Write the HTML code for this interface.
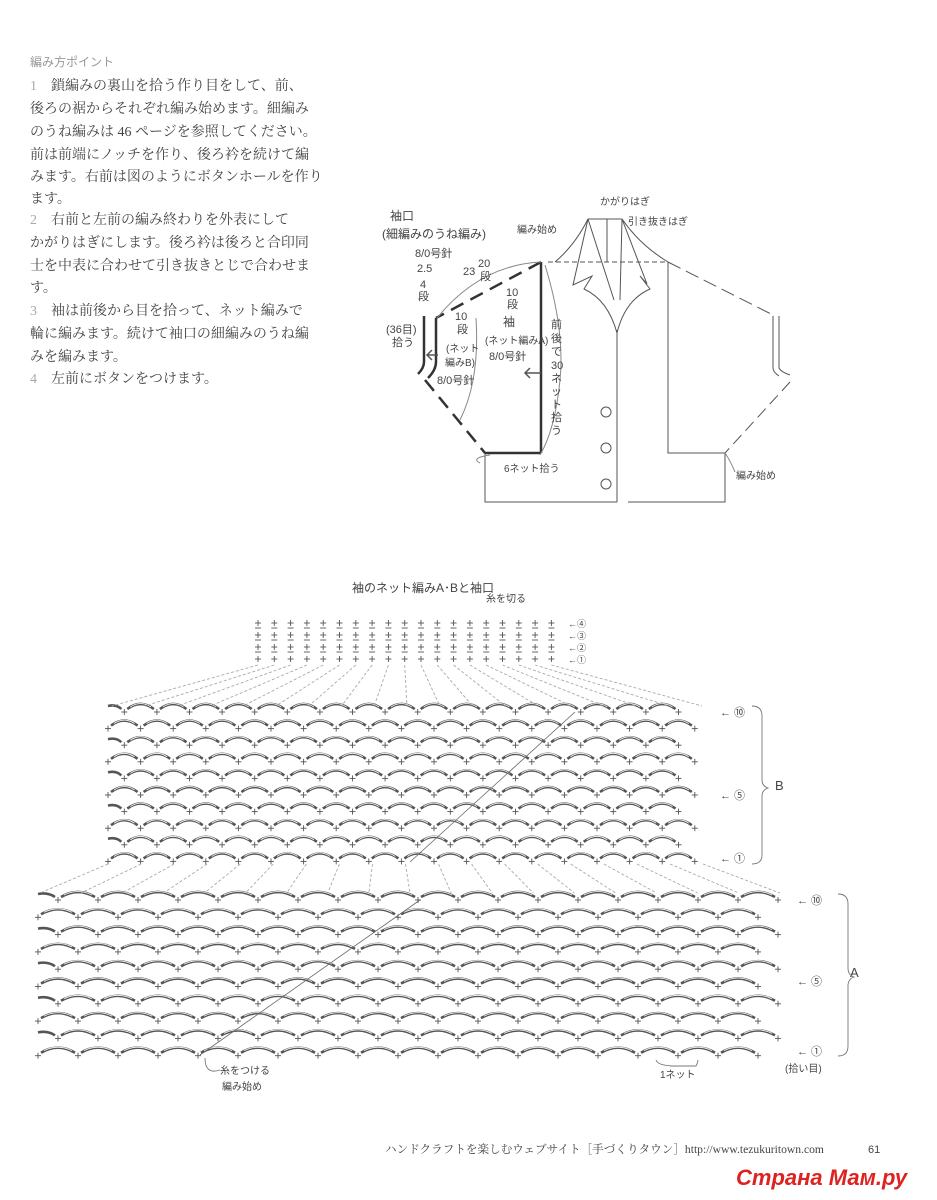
<!DOCTYPE html>
<html><head><meta charset="utf-8"><style>
html,body{margin:0;padding:0;background:#fff;}
body{width:937px;height:1200px;position:relative;overflow:hidden;font-family:"Liberation Serif","Noto Serif CJK SC","Noto Sans CJK JP",serif;color:#444;}
.t{position:absolute;left:30px;font-size:14px;white-space:nowrap;letter-spacing:0px;}
svg{position:absolute;left:0;top:0;}
svg text{font-family:"Liberation Sans","Noto Sans CJK JP",sans-serif;fill:#444;}
</style></head><body>
<div class="t" style="top:53px;font-size:12px;color:#999;font-family:'Liberation Sans','Noto Sans CJK JP',sans-serif">編み方ポイント</div>
<div class="t" style="top:75px"><span style="color:#aaa">1</span>　鎖編みの裏山を拾う作り目をして、前、</div>
<div class="t" style="top:98px">後ろの裾からそれぞれ編み始めます。細編み</div>
<div class="t" style="top:121px">のうね編みは 46 ページを参照してください。</div>
<div class="t" style="top:144px">前は前端にノッチを作り、後ろ衿を続けて編</div>
<div class="t" style="top:166px">みます。右前は図のようにボタンホールを作り</div>
<div class="t" style="top:188px">ます。</div>
<div class="t" style="top:209px"><span style="color:#aaa">2</span>　右前と左前の編み終わりを外表にして</div>
<div class="t" style="top:232px">かがりはぎにします。後ろ衿は後ろと合印同</div>
<div class="t" style="top:255px">士を中表に合わせて引き抜きとじで合わせま</div>
<div class="t" style="top:277px">す。</div>
<div class="t" style="top:300px"><span style="color:#aaa">3</span>　袖は前後から目を拾って、ネット編みで</div>
<div class="t" style="top:323px">輪に編みます。続けて袖口の細編みのうね編</div>
<div class="t" style="top:346px">みを編みます。</div>
<div class="t" style="top:368px"><span style="color:#aaa">4</span>　左前にボタンをつけます。</div>

<svg id="s" width="937" height="1200" viewBox="0 0 937 1200">
<g fill="none" stroke="#555" stroke-width="1">
 <polyline points="541,262 541,453 485,453 485,502 617,502"/>
 <polyline points="628,502 725,502 725,453 668,453 668,262"/>
 <line x1="617" y1="330" x2="617" y2="502"/>
 <line x1="548" y1="262" x2="668" y2="262" stroke-dasharray="5,3"/>
 <line x1="588" y1="219" x2="622" y2="219"/>
 <line x1="607" y1="219" x2="607" y2="262"/>
 <path d="M555,262 Q575,245 588,219"/>
 <path d="M622,219 Q640,245 668,262"/>
 <path d="M588,219 L573,285 L592,276 L584,289 Q608,300 617,333 Q625,300 650,289 L640,276 L647,284 L622,219"/>
 <path d="M588,219 L614,300 M622,219 L620,300"/>
 <circle cx="606" cy="412" r="5"/><circle cx="606" cy="448" r="5"/><circle cx="606" cy="484" r="5"/>
 <line x1="668" y1="262" x2="773" y2="315" stroke-dasharray="14,6"/>
 <path d="M773,316 L773,368 Q773,372 779,376 M779,316 L779,368 Q781,372 790,375"/>
 <line x1="790" y1="382" x2="725" y2="453" stroke-dasharray="12,6"/>
 <line x1="541" y1="262" x2="436" y2="318" stroke-width="2.5" stroke="#333" stroke-dasharray="14,8"/>
 <path d="M424,316 L424,362 Q424,368 418,374 M436,318 L436,362 Q436,370 428,378" stroke-width="2.5" stroke="#333"/>
 <line x1="425" y1="380" x2="485" y2="453" stroke-width="2.5" stroke="#333" stroke-dasharray="14,8"/>
 <line x1="541" y1="262" x2="541" y2="453" stroke-width="2.5" stroke="#333"/>
 <line x1="485" y1="453" x2="541" y2="453" stroke-width="2.5" stroke="#333"/>
 <path d="M428,355 L438,355 M432,350 L427,355 L432,360" stroke-width="1.5"/>
 <path d="M525,373 L541,373 M530,368 L525,373 L530,378" stroke-width="1.5"/>
 <path d="M437,318 Q480,265 541,262" stroke="#888"/>
 <path d="M545,265 Q565,330 560,380 Q555,430 540,455" stroke="#888"/>
 <path d="M476,318 Q480,380 460,420" stroke="#888"/>
 <path d="M490,455 Q470,458 480,463" stroke="#888"/>
 <path d="M725,453 Q730,460 735,472" stroke="#888"/>
</g>
<g font-size="11">
 <text x="390" y="220" font-size="12">袖口</text>
 <text x="382" y="238" font-size="12">(細編みのうね編み)</text>
 <text x="415" y="257">8/0号針</text>
 <text x="417" y="272">2.5</text>
 <text x="420" y="288">4</text><text x="418" y="300">段</text>
 <text x="386" y="333">(36目)</text><text x="392" y="346">拾う</text>
 <text x="463" y="275">23</text><text x="478" y="267">20</text><text x="480" y="280">段</text>
 <text x="506" y="296">10</text><text x="507" y="308">段</text>
 <text x="455" y="320">10</text><text x="457" y="333">段</text>
 <text x="503" y="326" font-size="12">袖</text>
 <text x="485" y="344" font-size="10">(ネット編みA)</text>
 <text x="489" y="360">8/0号針</text>
 <text x="446" y="352" font-size="10">(ネット</text>
 <text x="445" y="366" font-size="10">編みB)</text>
 <text x="437" y="384">8/0号針</text>
 <text x="517" y="233" font-size="10">編み始め</text>
 <text x="600" y="205" font-size="10">かがりはぎ</text>
 <text x="628" y="225" font-size="10">引き抜きはぎ</text>
 <text x="504" y="472" font-size="10">6ネット拾う</text>
 <text x="736" y="479" font-size="10">編み始め</text>
 <g font-size="11"><text x="551" y="328">前</text><text x="551" y="342">後</text><text x="551" y="355">で</text><text x="551" y="369">30</text><text x="551" y="382">ネ</text><text x="551" y="395">ッ</text><text x="551" y="408">ト</text><text x="551" y="421">拾</text><text x="551" y="434">う</text></g>
 <text x="352" y="592" font-size="12">袖のネット編みA･Bと袖口</text>
 <text x="486" y="602" font-size="10">糸を切る</text>
 <text x="220" y="1074" font-size="10">糸をつける</text>
 <text x="222" y="1090" font-size="10">編み始め</text>
 <text x="660" y="1078" font-size="10">1ネット</text>
 <text x="785" y="1072" font-size="10">(拾い目)</text>
 <text x="775" y="790" font-size="13">B</text>
 <text x="850" y="977" font-size="13">A</text>
</g>
<g id="chart" stroke="#555" fill="none" stroke-width="0.9"></g>
<text x="385" y="1153" font-size="11.6" style="font-family:'Liberation Serif','Noto Serif CJK SC',serif">ハンドクラフトを楽しむウェブサイト［手づくりタウン］http://www.tezukuritown.com</text>
<text x="868" y="1153" font-size="11">61</text>
<text x="736" y="1185" font-size="22" font-weight="bold" style="fill:#d22;font-style:italic">Страна Мам.ру</text>
</svg>
<script>
var g=document.getElementById('chart'),h='';
function L(a,b,c,d,ex){h+='<line x1="'+a+'" y1="'+b+'" x2="'+c+'" y2="'+d+'" '+(ex||'')+'/>';}
function P(x,y,s){L(x-s,y,x+s,y);L(x,y-s,x,y+s);}
var cx=[];for(var i=0;i<19;i++)cx.push(258+i*16.3);
cx.forEach(function(x){[623,635,647,659].forEach(function(y,j){P(x,y,3);if(j<3)L(x-3,y+5,x+3,y+5);});});
['④','③','②','①'].forEach(function(c,j){h+='<text x="568" y="'+(627+12*j)+'" font-size="9" stroke="none">&#8592;'+c+'</text>';});
function mesh(x0,x1,y0,n,w,dy){for(var r=0;r<n;r++){var y=y0+r*dy,off=(r%2)?0:w/2;
 if(r%2==0)h+='<path d="M'+(x0)+','+(y-6)+' Q'+(x0+w/4)+','+(y-8)+' '+(x0+w/2-3)+','+(y-3)+'" stroke-width="2.6" stroke="#555"/>';
 for(var x=x0+off;x<x1;x+=w){P(x,y,3);if(x+w<=x1+4)h+='<path d="M'+(x+3)+','+(y-3)+' Q'+(x+w/2)+','+(y-13)+' '+(x+w-3)+','+(y-3)+'" stroke-width="2.6" stroke="#555"/><path d="M'+(x+6)+','+(y-5)+' Q'+(x+w/2)+','+(y-12)+' '+(x+w-6)+','+(y-5)+'" stroke-width="0.8" stroke="#fff"/>';}}}
mesh(108,705,712,10,32.6,16.6);
mesh(38,780,900,10,40,17.3);
for(var i=0;i<19;i++){var bx=112+i*(590/18);L(cx[i],665,bx,706,'stroke="#aaa" stroke-dasharray="3,2"');}
for(var i=0;i<19;i++){var tx=108+i*(595/18),bx=40+i*(740/18);L(tx,864,bx,893,'stroke="#aaa" stroke-dasharray="3,2"');}
h+='<polyline points="200,1055 420,900" stroke="#666" stroke-width="0.8"/>';
h+='<polyline points="410,862 575,712" stroke="#666" stroke-width="0.8"/>';
h+='<path d="M752,706 Q762,706 762,716 L762,780 Q762,786 768,788 Q762,790 762,796 L762,855 Q762,864 752,864" stroke="#777"/>';
h+='<path d="M838,894 Q848,894 848,904 L848,968 Q848,975 854,977 Q848,979 848,986 L848,1046 Q848,1056 838,1056" stroke="#777"/>';
h+='<path d="M656,1060 Q658,1066 676,1066 Q658,1066 696,1066 Q698,1062 698,1060" stroke="#777"/>';
[['⑩',716,720],['⑤',799,720],['①',862,720],['⑩',904,797],['⑤',985,797],['①',1055,797]].forEach(function(a){h+='<text x="'+a[2]+'" y="'+a[1]+'" font-size="11" stroke="none">&#8592; '+a[0]+'</text>';});
h+='<path d="M205,1058 Q205,1075 220,1070" stroke="#777"/>';
g.innerHTML=h;
</script>
</body></html>
